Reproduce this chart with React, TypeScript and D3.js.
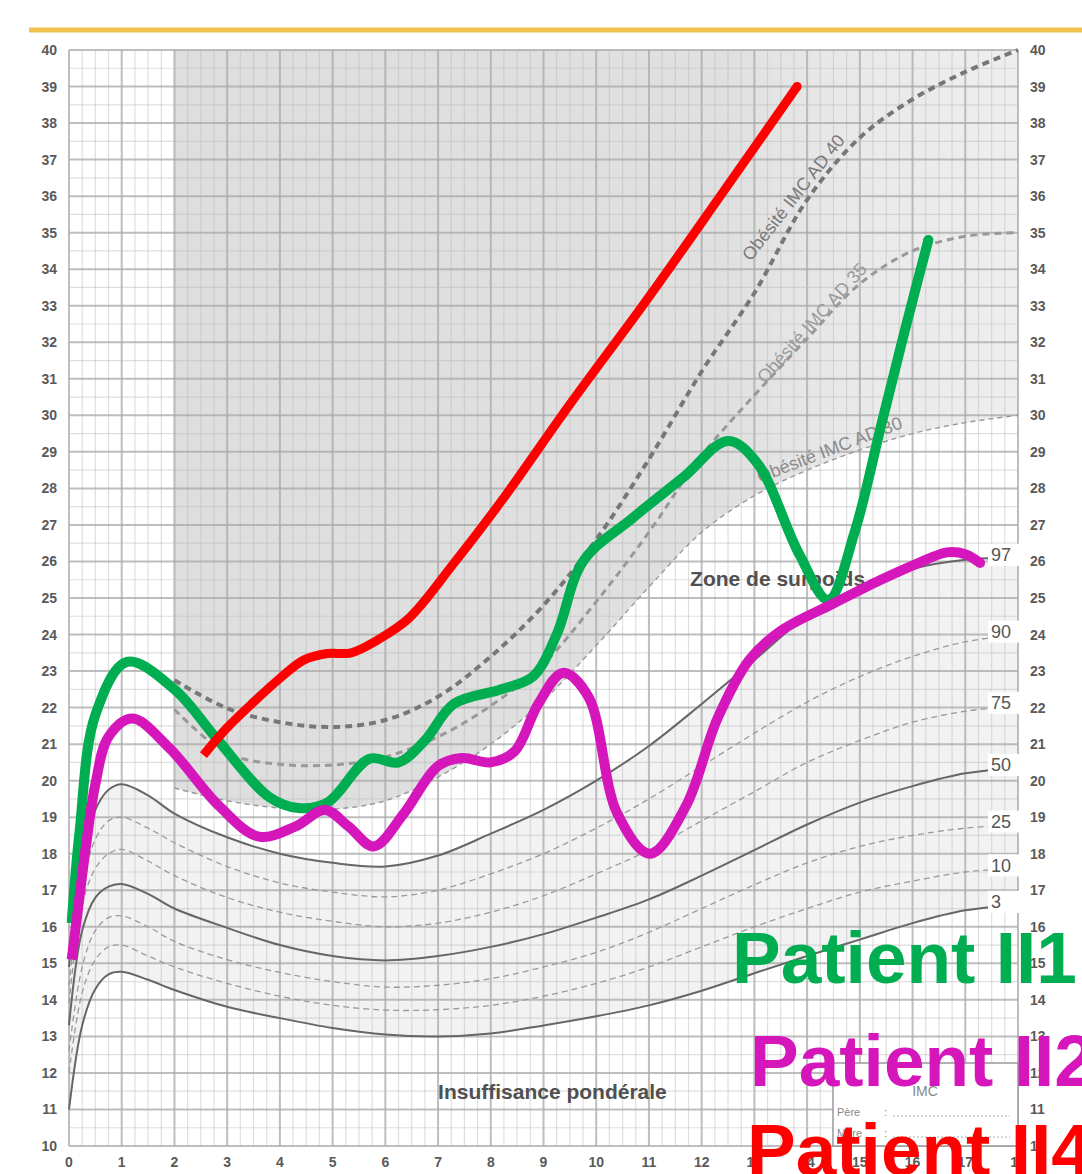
import React from "react";
import * as d3 from "d3";

// reference percentile curves (age in years -> BMI)
const ages = [0, 0.25, 0.5, 0.75, 1, 1.5, 2, 3, 4, 5, 6, 7, 8, 9, 10, 11, 12, 13, 14, 15, 16, 17, 18];
const p97 = [14.9, 17.8, 19.2, 19.75, 19.9, 19.6, 19.1, 18.45, 18.0, 17.75, 17.65, 17.95, 18.55, 19.2, 20.0, 20.95, 22.1, 23.3, 24.5, 25.3, 25.8, 26.05, 26.1];
const p90 = [14.4, 17.1, 18.4, 18.9, 19.0, 18.7, 18.3, 17.65, 17.2, 16.95, 16.82, 17.0, 17.45, 18.0, 18.7, 19.5, 20.4, 21.3, 22.15, 22.85, 23.4, 23.8, 24.0];
const p75 = [13.9, 16.6, 17.6, 18.0, 18.12, 17.8, 17.4, 16.8, 16.4, 16.15, 16.0, 16.1, 16.4, 16.85, 17.45, 18.1, 18.9, 19.7, 20.5, 21.1, 21.6, 21.9, 22.05];
const p50 = [13.3, 15.9, 16.8, 17.1, 17.17, 16.9, 16.5, 15.97, 15.5, 15.2, 15.08, 15.2, 15.45, 15.8, 16.25, 16.75, 17.4, 18.1, 18.8, 19.4, 19.85, 20.2, 20.35];
const p25 = [12.6, 14.9, 15.9, 16.25, 16.3, 16.0, 15.6, 15.1, 14.75, 14.5, 14.35, 14.4, 14.58, 14.9, 15.3, 15.85, 16.5, 17.15, 17.75, 18.2, 18.5, 18.7, 18.8];
const p10 = [12.0, 14.2, 15.1, 15.45, 15.5, 15.2, 14.9, 14.45, 14.1, 13.85, 13.72, 13.73, 13.85, 14.1, 14.45, 14.9, 15.45, 16.0, 16.5, 16.95, 17.25, 17.5, 17.6];
const p3 = [11.0, 13.3, 14.3, 14.7, 14.77, 14.55, 14.27, 13.81, 13.5, 13.23, 13.05, 13.0, 13.08, 13.3, 13.55, 13.85, 14.25, 14.73, 15.2, 15.65, 16.1, 16.45, 16.6];

// IOTF obesity thresholds
const iotfAges = [2, 3, 4, 5, 6, 7, 8, 9, 10, 11, 12, 13, 14, 15, 16, 17, 18];
const ad30 = [19.8, 19.45, 19.25, 19.22, 19.45, 20.1, 21.0, 22.2, 23.7, 25.3, 26.8, 27.8, 28.5, 29.05, 29.5, 29.8, 30.0];
const ad35 = [21.95, 20.75, 20.45, 20.43, 20.65, 21.2, 22.05, 23.2, 24.9, 26.8, 28.9, 30.55, 32.1, 33.6, 34.5, 34.9, 35.0];
const ad40 = [22.75, 21.98, 21.6, 21.47, 21.66, 22.3, 23.4, 24.8, 26.6, 28.8, 31.2, 33.35, 35.9, 37.6, 38.65, 39.4, 40.0];

// patients
const ii1Ages = [0.05, 0.2, 0.5, 1.1, 2, 2.8, 3.8, 4.35, 4.9, 5.7, 6.25, 6.75, 7.3, 8.2, 8.8, 9.25, 9.75, 10.7, 11.65, 12.5, 13.05, 13.85, 14.4, 14.9, 15.4, 15.85, 16.3];
const ii1Bmi = [16.1, 18.6, 21.8, 23.25, 22.5, 21.15, 19.55, 19.25, 19.4, 20.6, 20.5, 21.1, 22.1, 22.5, 22.85, 24.0, 26.0, 27.2, 28.3, 29.3, 28.7, 26.2, 24.95, 26.8, 29.7, 32.3, 34.8];
const ii2Ages = [0.05, 0.18, 0.33, 0.5, 0.75, 1.2, 1.9, 2.85, 3.6, 4.3, 4.85, 5.3, 5.78, 6.35, 7.0, 7.45, 8.0, 8.45, 8.9, 9.37, 9.85, 10.4, 11.02, 11.7, 12.3, 12.9, 13.5, 14.5, 15.4, 16.1, 16.65, 17.0, 17.28];
const ii2Bmi = [15.1, 16.6, 18.3, 19.9, 21.2, 21.7, 20.9, 19.3, 18.47, 18.75, 19.2, 18.75, 18.2, 19.1, 20.4, 20.62, 20.5, 20.8, 22.1, 22.95, 22.3, 19.1, 18.0, 19.3, 21.7, 23.3, 24.1, 24.85, 25.5, 25.95, 26.25, 26.2, 25.96];
const ii4Ages = [2.55, 3.0, 3.5, 4.0, 4.45, 4.9, 5.35, 5.85, 6.45, 7.3, 8.2, 9.5, 10.96, 12.4, 13.81];
const ii4Bmi = [20.7, 21.45, 22.15, 22.8, 23.3, 23.48, 23.5, 23.85, 24.45, 25.95, 27.65, 30.3, 33.16, 36.1, 39.0];

const ageTicks = d3.range(0, 19);
const bmiTicks = d3.range(10, 41);

const W = 1082;
const H = 1174;
const x = d3.scaleLinear().domain([0, 18]).range([69, 1018]);
const y = d3.scaleLinear().domain([10, 40]).range([1146, 50]);

const font = "'Liberation Sans', Arial, sans-serif";

function linePath(xs: number[], ys: number[], curve: any = d3.curveCatmullRom.alpha(0.5)) {
  const pts = xs.map((a, i) => [a, ys[i]] as [number, number]);
  return d3.line<[number, number]>().x((d) => x(d[0])).y((d) => y(d[1])).curve(curve)(pts) || "";
}

export default function App() {
  const curve = d3.curveCatmullRom.alpha(0.5);

  const normalZone = d3
    .area<number>()
    .x((d, i) => x(ages[i]))
    .y0((d, i) => y(p3[i]))
    .y1((d) => y(d))
    .curve(curve)(p97) || "";

  const obesityZone = d3
    .area<number>()
    .x((d, i) => x(iotfAges[i]))
    .y0((d) => y(d))
    .y1(() => y(40))
    .curve(curve)(ad30) || "";

  const percentiles = [
    { label: "97", values: p97, dashed: false },
    { label: "90", values: p90, dashed: true },
    { label: "75", values: p75, dashed: true },
    { label: "50", values: p50, dashed: false },
    { label: "25", values: p25, dashed: true },
    { label: "10", values: p10, dashed: true },
    { label: "3", values: p3, dashed: false },
  ];

  const iotf = [
    { values: ad40, width: 4, dash: "7 5", color: "#777" },
    { values: ad35, width: 3, dash: "7 5", color: "#999" },
    { values: ad30, width: 1.4, dash: "5 4", color: "#999" },
  ];

  const patients = [
    { a: ii1Ages, v: ii1Bmi, color: "#00ad50", w: 10 },
    { a: ii2Ages, v: ii2Bmi, color: "#d416bb", w: 10 },
    { a: ii4Ages, v: ii4Bmi, color: "#ff0000", w: 9 },
  ];

  const quarter = d3.range(0, 18.001, 0.25);
  const half = d3.range(10, 40.001, 0.5);

  return (
    <svg
      width={W}
      height={H}
      style={{ position: "absolute", left: 0, top: 0, overflow: "hidden", background: "#fff" }}
      fontFamily={font}
    >
      <defs>
        <linearGradient id="obGrad" gradientUnits="userSpaceOnUse" x1={x(2)} x2={x(18)} y1={0} y2={0}>
          <stop offset="0%" stopColor="#dedede" />
          <stop offset="65%" stopColor="#e0e0e0" />
          <stop offset="80%" stopColor="#e9e9e9" />
          <stop offset="100%" stopColor="#eeeeee" />
        </linearGradient>
      </defs>

      <line x1={29} x2={W} y1={30} y2={30} stroke="#f2c14e" strokeWidth={5} />

      {/* zones */}
      <rect x={x(0)} y={y(40)} width={x(18) - x(0)} height={y(10) - y(40)} fill="#fff" />
      <path d={obesityZone} fill="url(#obGrad)" />
      <path d={normalZone} fill="#f2f2f2" />

      {/* grid */}
      {quarter.map((a) => (
        <line
          key={"v" + a}
          x1={x(a)}
          x2={x(a)}
          y1={y(40)}
          y2={y(10)}
          stroke={Number.isInteger(a) ? "#a8a8a8" : "#b8b8b8"}
          strokeOpacity={Number.isInteger(a) ? 0.75 : 0.45}
          strokeWidth={Number.isInteger(a) ? 2 : 1.2}
        />
      ))}
      {half.map((b) => (
        <line
          key={"h" + b}
          x1={x(0)}
          x2={x(18)}
          y1={y(b)}
          y2={y(b)}
          stroke={Number.isInteger(b) ? "#a8a8a8" : "#b8b8b8"}
          strokeOpacity={Number.isInteger(b) ? 0.75 : 0.45}
          strokeWidth={Number.isInteger(b) ? 2 : 1.2}
        />
      ))}

      {/* percentile curves */}
      {percentiles.map((p) => (
        <path
          key={"p" + p.label}
          d={linePath(ages, p.values, curve)}
          fill="none"
          stroke={p.dashed ? "#9a9a9a" : "#666"}
          strokeWidth={p.dashed ? 1.3 : 2}
          strokeDasharray={p.dashed ? "6 4" : undefined}
        />
      ))}

      {/* IOTF curves */}
      {iotf.map((c, i) => (
        <path
          key={"i" + i}
          d={linePath(iotfAges, c.values, curve)}
          fill="none"
          stroke={c.color}
          strokeWidth={c.width}
          strokeDasharray={c.dash}
        />
      ))}

      {/* percentile labels */}
      {percentiles.map((p) => {
        const ly = y(p.values[p.values.length - 1]) - 3;
        return (
          <g key={"l" + p.label}>
            <rect x={988} y={ly - 11} width={31} height={22} fill="#fff" />
            <text x={991} y={ly + 6.5} fontSize={18} fill="#555">
              {p.label}
            </text>
          </g>
        );
      })}

      {/* annotations */}
      <text
        transform={`translate(${x(12.93)},${y(34.2)}) rotate(-52)`}
        fontSize={18}
        fill="#7a7a7a"
      >
        Obésité IMC AD 40
      </text>
      <text
        transform={`translate(${x(13.2)},${y(30.85)}) rotate(-48)`}
        fontSize={18}
        fill="#9a9a9a"
      >
        Obésité IMC AD 35
      </text>
      <text
        transform={`translate(${x(13.1)},${y(28.15)}) rotate(-21)`}
        fontSize={18}
        fill="#8a8a8a"
      >
        Obésité IMC AD 30
      </text>
      <text x={x(11.78)} y={y(25.0) - 12} fontSize={21} fontWeight="bold" fill="#505050">
        Zone de surpoids
      </text>
      <text x={x(7.0)} y={y(11.29)} fontSize={21} fontWeight="bold" fill="#505050">
        Insuffisance pondérale
      </text>

      {/* IMC box */}
      <g>
        <rect x={833} y={1063} width={185} height={83} fill="#fff" stroke="#999" strokeWidth={1.5} />
        <text x={925} y={1096} fontSize={14} fill="#888" textAnchor="middle">IMC</text>
        <text x={837} y={1116} fontSize={11} fill="#888">Père</text>
        <text x={884} y={1116} fontSize={11} fill="#888">:</text>
        <line x1={893} x2={1010} y1={1116} y2={1116} stroke="#aaa" strokeDasharray="2 2" />
        <text x={837} y={1137} fontSize={11} fill="#888">Mère</text>
        <text x={884} y={1137} fontSize={11} fill="#888">:</text>
        <line x1={893} x2={1010} y1={1137} y2={1137} stroke="#aaa" strokeDasharray="2 2" />
      </g>

      {/* axis labels */}
      {bmiTicks.map((b) => (
        <g key={"t" + b}>
          <text x={57} y={y(b) + 5} fontSize={14} fontWeight="bold" fill="#5a5a5a" textAnchor="end">
            {b}
          </text>
          <text x={1030} y={y(b) + 5} fontSize={14} fontWeight="bold" fill="#5a5a5a">
            {b}
          </text>
        </g>
      ))}
      {ageTicks.map((a) => (
        <text key={"a" + a} x={x(a)} y={1167} fontSize={14} fontWeight="bold" fill="#5a5a5a" textAnchor="middle">
          {a}
        </text>
      ))}

      {/* patient lines */}
      {patients.map((p, i) => {
        const last = p.a.length - 1;
        return (
          <g key={"pt" + i}>
            <path d={linePath(p.a, p.v, curve)} fill="none" stroke={p.color} strokeWidth={p.w} />
            <circle cx={x(p.a[last])} cy={y(p.v[last])} r={p.w / 2} fill={p.color} />
          </g>
        );
      })}

      {/* legend */}
      <text x={732} y={983} fontSize={73} fontWeight="bold" fill="#00ad50">Patient II1</text>
      <text x={750} y={1086} fontSize={73} fontWeight="bold" fill="#d416bb">Patient II2</text>
      <text x={747} y={1175} fontSize={73} fontWeight="bold" fill="#ff0000">Patient II4</text>
    </svg>
  );
}
